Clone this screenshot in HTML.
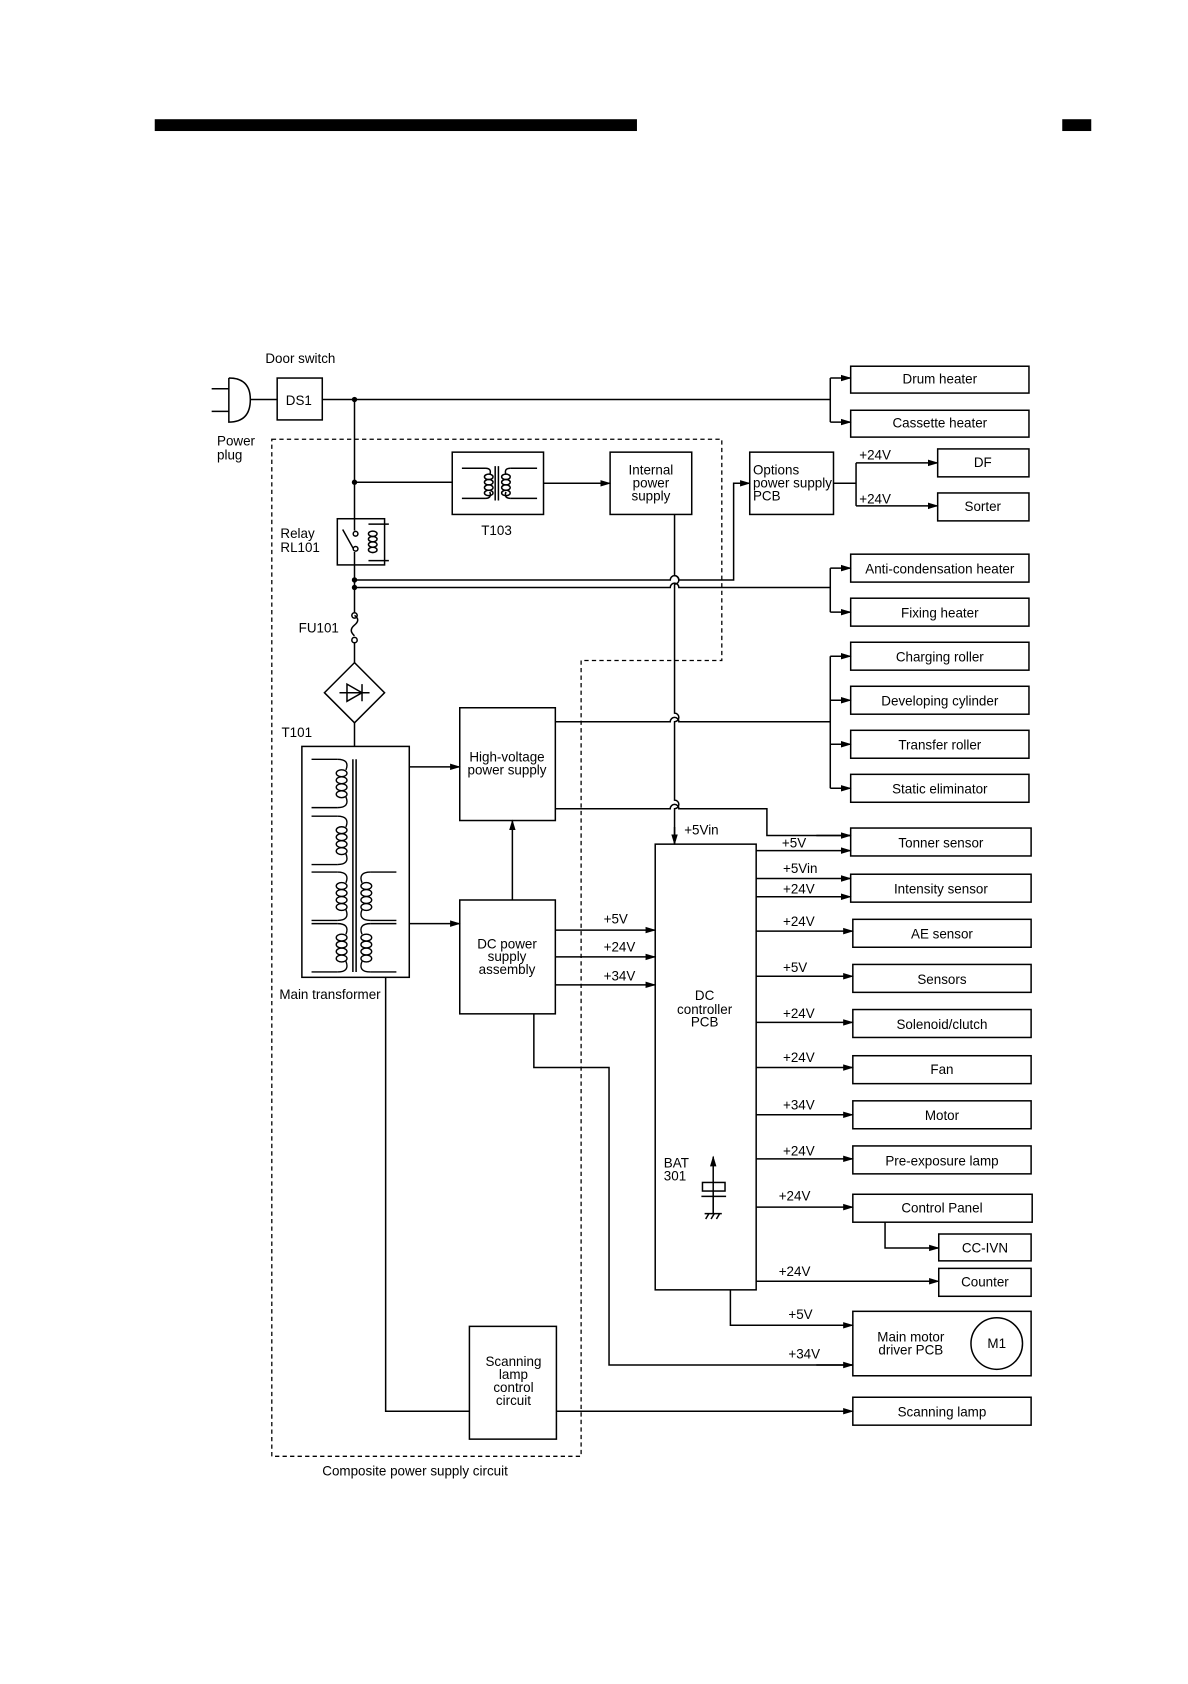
<!DOCTYPE html>
<html><head><meta charset="utf-8"><style>
html,body{margin:0;padding:0;background:#fff;}
svg{display:block;}
text{font-family:"Liberation Sans",sans-serif;font-size:12.5px;fill:#000;}
</style></head><body>
<svg width="1188" height="1684" viewBox="0 0 1106 1568" xmlns="http://www.w3.org/2000/svg">
<defs>
<marker id="a" markerWidth="10" markerHeight="8" refX="9" refY="4" orient="auto" markerUnits="userSpaceOnUse"><path d="M0,1 L10,4 L0,7 z" fill="#000"/></marker>
<g id="coilL"><path d="M290,0 H314 M290,45 H314" stroke="#000" fill="none" stroke-width="1.3"/><path d="M314,0 q12,0 8,10 M314,45 q12,0 8,-10" stroke="#000" fill="none" stroke-width="1.3"/>
<ellipse cx="318" cy="13" rx="5" ry="3.2" fill="none" stroke="#000" stroke-width="1.3"/><ellipse cx="318" cy="19.5" rx="5" ry="3.2" fill="none" stroke="#000" stroke-width="1.3"/><ellipse cx="318" cy="26" rx="5" ry="3.2" fill="none" stroke="#000" stroke-width="1.3"/><ellipse cx="318" cy="32.5" rx="5" ry="3.2" fill="none" stroke="#000" stroke-width="1.3"/></g>
<g id="coilR"><use href="#coilL" transform="translate(659,0) scale(-1,1)"/></g>
</defs>
<rect x="144" y="111" width="449" height="11" fill="#000"/>
<rect x="989" y="111" width="27" height="11" fill="#000"/>
<g stroke="#000" stroke-width="1.4" fill="none">
<path d="M253,409 H672 V615 H541 V1356 H253 Z" stroke-dasharray="4,3" stroke-width="1.2"/>
<path d="M197,362 H213 M197,383 H213 M213,352 V393 Q233,393 233,372 Q233,352 213,352"/>
<path d="M233,372 H258"/>
<rect x="258" y="352" width="42" height="39"/>
<path d="M300,372 H773"/>
<path d="M773,352 V393"/><path d="M773,352 H792" marker-end="url(#a)"/><path d="M773,393 H792" marker-end="url(#a)"/>
<path d="M330,372 V483 M330,526 V570 M330,598 V617 M330,673 V695"/>
<path d="M330,449 H421"/>
<rect x="421" y="421" width="85" height="58"/>
<path d="M430,436 H452 M430,464 H452 M475,436 H500 M475,464 H500 M461,434 V466 M464,434 V466"/>
<path d="M452,436 q6,0 4,6 M452,464 q6,0 4,-6 M475,436 q-6,0 -4,6 M475,464 q-6,0 -4,-6"/>
<ellipse cx="455" cy="444" rx="4" ry="2.5"/><ellipse cx="455" cy="449" rx="4" ry="2.5"/><ellipse cx="455" cy="454" rx="4" ry="2.5"/><ellipse cx="455" cy="459" rx="4" ry="2.5"/>
<ellipse cx="471" cy="444" rx="4" ry="2.5"/><ellipse cx="471" cy="449" rx="4" ry="2.5"/><ellipse cx="471" cy="454" rx="4" ry="2.5"/><ellipse cx="471" cy="459" rx="4" ry="2.5"/>
<path d="M506,450 H568" marker-end="url(#a)"/>
<rect x="568" y="421" width="76" height="58"/>
<rect x="314" y="483" width="44" height="43"/>
<path d="M330,483 V494 M330,514 V526 M319,493 L329,511 M343,488 H362 M343,522 H362"/>
<circle cx="331" cy="497" r="2.2"/><circle cx="331" cy="511" r="2.2"/>
<ellipse cx="347" cy="497" rx="4" ry="2.5"/><ellipse cx="347" cy="502" rx="4" ry="2.5"/><ellipse cx="347" cy="507" rx="4" ry="2.5"/><ellipse cx="347" cy="512" rx="4" ry="2.5"/>
<path d="M330,540 H624 a4,4 0 0 1 8,0 H683 V450 H698" /><path d="M683,450 H698" marker-end="url(#a)"/>
<path d="M330,547 H624 a4,4 0 0 1 8,0 H773"/>
<path d="M773,529 V570"/><path d="M773,529 H792" marker-end="url(#a)"/><path d="M773,570 H792" marker-end="url(#a)"/>
<path d="M330,573 q6,4 0,9 q-6,5 0,10" />
<circle cx="330" cy="573" r="2.5"/><circle cx="330" cy="596" r="2.5"/>
<path d="M330,617 L358,645 L330,673 L302,645 Z"/>
<path d="M316,645 H344 M323,637 V653 L337,645 Z M337,637 V653"/>
<rect x="281" y="695" width="100" height="215"/>
<path d="M328.5,707 V905 M331.5,707 V905"/>
<path d="M381,714 H428" marker-end="url(#a)"/>
<path d="M381,860 H428" marker-end="url(#a)"/>
<path d="M359,910 V1314 H437"/>
<rect x="428" y="659" width="89" height="105"/>
<path d="M477,838 V764" marker-end="url(#a)"/>
<path d="M517,672 H624 a4,4 0 0 1 8,0 H773"/>
<path d="M773,611 V734"/><path d="M773,611 H792" marker-end="url(#a)"/><path d="M773,652 H792" marker-end="url(#a)"/><path d="M773,693 H792" marker-end="url(#a)"/><path d="M773,734 H792" marker-end="url(#a)"/>
<path d="M517,753 H624 a4,4 0 0 1 8,0 H714 V778 H792" /><path d="M760,778 H792" marker-end="url(#a)"/>
<path d="M628,479 V536 a4,4 0 0 1 0,8 V664 a4,4 0 0 1 0,8 V745 a4,4 0 0 1 0,8 V786" /><path d="M628,770 V786" marker-end="url(#a)"/>
<rect x="428" y="838" width="89" height="106"/>
<path d="M517,866 H610" marker-end="url(#a)"/><path d="M517,891 H610" marker-end="url(#a)"/><path d="M517,917 H610" marker-end="url(#a)"/>
<path d="M497,944 V994 H567 V1271 H794" /><path d="M760,1271 H794" marker-end="url(#a)"/>
<rect x="610" y="786" width="94" height="415"/>
<path d="M704,792 H792" marker-end="url(#a)"/>
<path d="M704,818 H792" marker-end="url(#a)"/><path d="M704,835 H792" marker-end="url(#a)"/>
<path d="M704,867 H794" marker-end="url(#a)"/>
<path d="M704,909 H794" marker-end="url(#a)"/>
<path d="M704,952 H794" marker-end="url(#a)"/>
<path d="M704,994 H794" marker-end="url(#a)"/>
<path d="M704,1038 H794" marker-end="url(#a)"/>
<path d="M704,1079 H794" marker-end="url(#a)"/>
<path d="M704,1124 H794" marker-end="url(#a)"/>
<path d="M704,1193 H874" marker-end="url(#a)"/>
<path d="M824,1138 V1162 H874" marker-end="url(#a)"/>
<path d="M680,1201 V1234 H794" marker-end="url(#a)"/>
<path d="M664,1130 V1077" marker-end="url(#a)"/>
<rect x="654" y="1101" width="21" height="8"/>
<path d="M653,1114 H676 M664,1114 V1130 M656,1130 H672 M657,1135 l3,-5 M662,1135 l3,-5 M667,1135 l3,-5"/>
<rect x="437" y="1235" width="81" height="105"/>
<path d="M518,1314 H794" marker-end="url(#a)"/>
<rect x="792" y="341" width="166" height="25"/><rect x="792" y="382" width="166" height="25"/>
<rect x="698" y="421" width="78" height="58"/>
<path d="M776,450 H797 M797,431 V471"/><path d="M797,431 H873" marker-end="url(#a)"/><path d="M797,471 H873" marker-end="url(#a)"/>
<rect x="873" y="418" width="85" height="26"/><rect x="873" y="459" width="85" height="26"/>
<rect x="792" y="516" width="166" height="26"/><rect x="792" y="557" width="166" height="26"/>
<rect x="792" y="598" width="166" height="26"/><rect x="792" y="639" width="166" height="26"/>
<rect x="792" y="680" width="166" height="26"/><rect x="792" y="721" width="166" height="26"/>
<rect x="792" y="771" width="168" height="26"/><rect x="792" y="814" width="168" height="26"/>
<rect x="794" y="856" width="166" height="26"/><rect x="794" y="898" width="166" height="26"/>
<rect x="794" y="940" width="166" height="26"/><rect x="794" y="983" width="166" height="26"/>
<rect x="794" y="1025" width="166" height="26"/><rect x="794" y="1067" width="166" height="26"/>
<rect x="794" y="1112" width="167" height="26"/>
<rect x="874" y="1149" width="86" height="25"/><rect x="874" y="1181" width="86" height="26"/>
<rect x="794" y="1221" width="166" height="60"/>
<circle cx="928" cy="1251" r="24"/>
<rect x="794" y="1301" width="166" height="26"/>
</g>
<use href="#coilL" y="707"/><use href="#coilL" y="760"/><use href="#coilL" y="812"/><use href="#coilL" y="860"/>
<use href="#coilR" y="812"/><use href="#coilR" y="860"/>
<circle cx="330" cy="372" r="2.5"/><circle cx="330" cy="449" r="2.5"/><circle cx="330" cy="540" r="2.5"/><circle cx="330" cy="547" r="2.5"/>
<g>
<text x="247" y="338">Door switch</text>
<text x="266" y="377">DS1</text>
<text x="202" y="415">Power</text><text x="202" y="428">plug</text>
<text x="261" y="501">Relay</text><text x="261" y="514">RL101</text>
<text x="448" y="498">T103</text>
<text x="278" y="589">FU101</text>
<text x="262" y="686">T101</text>
<text x="260" y="930">Main transformer</text>
<text x="606" y="442" text-anchor="middle">Internal</text><text x="606" y="454" text-anchor="middle">power</text><text x="606" y="466" text-anchor="middle">supply</text>
<text x="701" y="442">Options</text><text x="701" y="454">power supply</text><text x="701" y="466">PCB</text>
<text x="800" y="428">+24V</text><text x="800" y="469">+24V</text>
<text x="472" y="709" text-anchor="middle">High-voltage</text><text x="472" y="721" text-anchor="middle">power supply</text>
<text x="472" y="883" text-anchor="middle">DC power</text><text x="472" y="895" text-anchor="middle">supply</text><text x="472" y="907" text-anchor="middle">assembly</text>
<text x="562" y="860">+5V</text><text x="562" y="886">+24V</text><text x="562" y="913">+34V</text>
<text x="637" y="777">+5Vin</text>
<text x="656" y="931" text-anchor="middle">DC</text><text x="656" y="944" text-anchor="middle">controller</text><text x="656" y="956" text-anchor="middle">PCB</text>
<text x="618" y="1087">BAT</text><text x="618" y="1099">301</text>
<text x="478" y="1272" text-anchor="middle">Scanning</text><text x="478" y="1284" text-anchor="middle">lamp</text><text x="478" y="1296" text-anchor="middle">control</text><text x="478" y="1308" text-anchor="middle">circuit</text>
<text x="300" y="1374">Composite power supply circuit</text>
<text x="728" y="789">+5V</text><text x="729" y="813">+5Vin</text><text x="729" y="832">+24V</text>
<text x="729" y="862">+24V</text><text x="729" y="905">+5V</text><text x="729" y="948">+24V</text><text x="729" y="989">+24V</text>
<text x="729" y="1033">+34V</text><text x="729" y="1076">+24V</text><text x="725" y="1118">+24V</text><text x="725" y="1188">+24V</text>
<text x="734" y="1228">+5V</text><text x="734" y="1265">+34V</text>
<g text-anchor="middle">
<text x="875" y="357">Drum heater</text><text x="875" y="398">Cassette heater</text>
<text x="915" y="435">DF</text><text x="915" y="476">Sorter</text>
<text x="875" y="534">Anti-condensation heater</text><text x="875" y="575">Fixing heater</text>
<text x="875" y="616">Charging roller</text><text x="875" y="657">Developing cylinder</text>
<text x="875" y="698">Transfer roller</text><text x="875" y="739">Static eliminator</text>
<text x="876" y="789">Tonner sensor</text><text x="876" y="832">Intensity sensor</text>
<text x="877" y="874">AE sensor</text><text x="877" y="916">Sensors</text><text x="877" y="958">Solenoid/clutch</text>
<text x="877" y="1000">Fan</text><text x="877" y="1043">Motor</text><text x="877" y="1085">Pre-exposure lamp</text>
<text x="877" y="1129">Control Panel</text><text x="917" y="1166">CC-IVN</text><text x="917" y="1198">Counter</text>
<text x="848" y="1249">Main motor</text><text x="848" y="1261">driver PCB</text><text x="928" y="1255">M1</text>
<text x="877" y="1319">Scanning lamp</text>
</g></g>
</svg>
</body></html>
